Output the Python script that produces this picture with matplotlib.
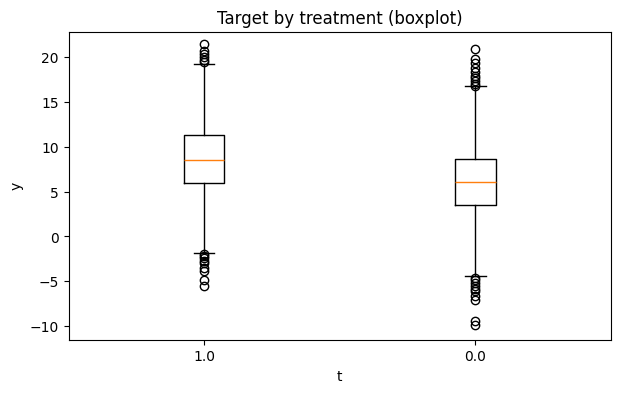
import matplotlib.pyplot as plt

labels = ['1.0', '0.0']
q1 = [6.0, 3.45]
med = [8.55, 6.1]
q3 = [11.25, 8.65]
whislo = [-1.85, -4.45]
whishi = [19.15, 16.7]
fliers = [
    [19.4, 19.7, 20.0, 20.3, 20.7, 21.4,
     -2.0, -2.2, -2.4, -2.7, -3.0, -3.5, -3.9, -4.8, -5.5],
    [16.8, 17.0, 17.3, 17.6, 17.9, 18.3, 18.8, 19.3, 19.8, 20.9,
     -4.6, -4.9, -5.2, -5.5, -5.8, -6.1, -6.6, -7.1, -9.4, -9.9],
]

stats = []
for i in range(len(labels)):
    stats.append({'label': labels[i], 'q1': q1[i], 'med': med[i], 'q3': q3[i],
                  'whislo': whislo[i], 'whishi': whishi[i], 'fliers': fliers[i]})

fig, ax = plt.subplots(figsize=(7, 4), dpi=100)
ax.bxp(stats, showfliers=True)
ax.set_ylim(-11.5, 22.8)
ax.set_title('Target by treatment (boxplot)')
ax.set_xlabel('t')
ax.set_ylabel('y')
plt.savefig('out.png', bbox_inches='tight')
